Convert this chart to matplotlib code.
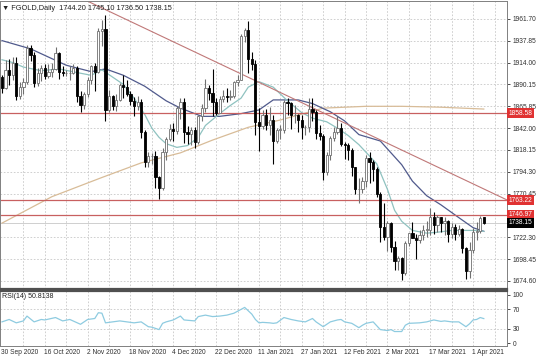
import numpy as np
import matplotlib.pyplot as plt
import matplotlib.transforms as mtransforms

# daily candles, bar index 0 = 30 Sep 2020
opens = [1898, 1886, 1906, 1900, 1913, 1877, 1887, 1893, 1930, 1922, 1891, 1902, 1908, 1899, 1904, 1907,
         1924, 1904, 1902, 1902, 1902, 1908, 1877, 1867, 1879, 1895, 1910, 1904, 1949, 1951, 1862, 1877,
         1866, 1873, 1889, 1887, 1880, 1872, 1866, 1871, 1838, 1805, 1811, 1811, 1788, 1776, 1816, 1830,
         1841, 1839, 1864, 1871, 1838, 1836, 1840, 1827, 1855, 1864, 1886, 1881, 1871, 1859, 1874, 1877,
         1876, 1877, 1893, 1895, 1943, 1950, 1918, 1912, 1849, 1844, 1856, 1845, 1851, 1828, 1840, 1840,
         1871, 1870, 1856, 1856, 1851, 1843, 1843, 1863, 1860, 1837, 1834, 1794, 1813, 1831, 1838, 1842,
         1825, 1824, 1818, 1799, 1775, 1775, 1784, 1809, 1805, 1797, 1770, 1734, 1723, 1738, 1712, 1697,
         1700, 1683, 1716, 1727, 1722, 1719, 1725, 1731, 1731, 1745, 1736, 1745, 1738, 1740, 1726, 1734,
         1726, 1732, 1711, 1685, 1708, 1728, 1729, 1744.20]
highs = [1900, 1917, 1918, 1920, 1920, 1893, 1897, 1933, 1933, 1925, 1908, 1911, 1912, 1912, 1913, 1931,
         1925, 1910, 1906, 1910, 1912, 1910, 1883, 1882, 1898, 1911, 1913, 1952, 1961, 1966, 1884, 1878,
         1880, 1892, 1900, 1895, 1883, 1876, 1877, 1874, 1840, 1816, 1815, 1817, 1790, 1820, 1832, 1847,
         1848, 1866, 1875, 1875, 1844, 1843, 1843, 1856, 1868, 1896, 1889, 1907, 1875, 1877, 1884, 1886,
         1884, 1894, 1900, 1945, 1952, 1960, 1925, 1917, 1864, 1862, 1863, 1865, 1856, 1842, 1845, 1873,
         1875, 1871, 1867, 1858, 1856, 1846, 1875, 1875, 1862, 1845, 1836, 1816, 1834, 1843, 1855, 1848,
         1827, 1826, 1820, 1800, 1787, 1789, 1813, 1816, 1807, 1799, 1772, 1760, 1740, 1739, 1718, 1702,
         1701, 1718, 1727, 1739, 1726, 1731, 1736, 1740, 1755, 1750, 1747, 1745, 1745, 1741, 1738, 1737,
         1736, 1733, 1712, 1717, 1733, 1739, 1746, 1745.10]
lows = [1881, 1885, 1889, 1895, 1873, 1874, 1880, 1890, 1916, 1887, 1888, 1894, 1896, 1897, 1898, 1906,
        1896, 1899, 1899, 1895, 1901, 1871, 1860, 1863, 1876, 1890, 1883, 1903, 1932, 1850, 1860, 1862,
        1861, 1872, 1875, 1877, 1867, 1855, 1862, 1831, 1800, 1799, 1803, 1776, 1764, 1774, 1807, 1828,
        1828, 1836, 1852, 1826, 1825, 1824, 1820, 1825, 1850, 1860, 1873, 1855, 1856, 1859, 1871, 1871,
        1873, 1875, 1888, 1895, 1936, 1902, 1906, 1835, 1817, 1841, 1840, 1835, 1803, 1826, 1830, 1837,
        1856, 1841, 1848, 1838, 1830, 1835, 1838, 1850, 1830, 1829, 1785, 1791, 1807, 1828, 1836, 1822,
        1808, 1807, 1790, 1770, 1760, 1771, 1778, 1782, 1784, 1767, 1717, 1719, 1707, 1706, 1687, 1687,
        1676, 1681, 1713, 1722, 1699, 1716, 1719, 1723, 1725, 1726, 1728, 1728, 1725, 1717, 1722, 1720,
        1724, 1705, 1677, 1678, 1705, 1720, 1727, 1736.50]
closes = [1886, 1906, 1900, 1913, 1877, 1887, 1893, 1930, 1922, 1891, 1902, 1908, 1899, 1904, 1907, 1924,
          1904, 1902, 1902, 1902, 1908, 1877, 1867, 1879, 1895, 1910, 1904, 1949, 1951, 1862, 1877, 1866,
          1873, 1889, 1887, 1880, 1872, 1866, 1871, 1838, 1805, 1811, 1811, 1788, 1776, 1816, 1830, 1841,
          1839, 1864, 1871, 1838, 1836, 1840, 1827, 1855, 1864, 1886, 1881, 1871, 1859, 1874, 1877, 1876,
          1877, 1893, 1895, 1943, 1950, 1918, 1912, 1849, 1844, 1856, 1845, 1851, 1828, 1840, 1840, 1871,
          1870, 1856, 1856, 1851, 1843, 1843, 1863, 1860, 1837, 1834, 1794, 1813, 1831, 1838, 1842, 1825,
          1824, 1818, 1799, 1775, 1775, 1784, 1809, 1805, 1797, 1770, 1734, 1723, 1738, 1712, 1697, 1700,
          1683, 1716, 1727, 1722, 1719, 1725, 1731, 1731, 1745, 1736, 1745, 1738, 1740, 1726, 1734, 1726,
          1732, 1711, 1685, 1708, 1728, 1729, 1744, 1738.15]

# moving averages (bar index, price)
ma_fast_idx = [0, 3, 6, 11, 16, 21, 25, 28, 31, 34, 37, 40, 42, 44, 46, 49, 52, 55, 57, 61, 64, 67,
               69, 72, 76, 80, 84, 87, 91, 94, 97, 100, 105, 108, 110, 112, 115, 119, 122, 126, 130, 133, 135]
ma_fast = [1917, 1914, 1909, 1905, 1907, 1903, 1900, 1906, 1898, 1890, 1875, 1857, 1842, 1832, 1825,
           1821, 1823, 1832, 1845, 1858, 1867, 1875, 1887, 1893, 1887, 1872, 1859, 1853, 1849, 1842, 1834,
           1824, 1803, 1775, 1752, 1740, 1730, 1727, 1728, 1730, 1730, 1730, 1729]
ma_slow_idx = [0, 8, 18, 25, 29, 34, 40, 46, 50, 56, 61, 67, 72, 76, 83, 87, 92, 96, 100, 106, 112,
               115, 119, 123, 128, 132, 135]
ma_slow = [1938, 1929, 1911, 1904, 1907, 1900, 1888, 1872, 1864, 1855, 1855, 1858, 1862, 1873, 1873,
           1869, 1860, 1850, 1835, 1828, 1802, 1784, 1768, 1758, 1744, 1733, 1729]
ma_long_idx = [0, 14, 28, 39, 50, 59, 69, 78, 90, 102, 112, 123, 135]
ma_long = [1738, 1767, 1788, 1804, 1815, 1829, 1843, 1851, 1864, 1866, 1866, 1865, 1863]

# RSI(14)
rsi_idx = [0, 2, 4, 6, 7, 9, 11, 12, 15, 17, 19, 22, 24, 26, 27, 28, 29, 31, 33, 35, 37, 39, 41, 42, 44,
           45, 46, 48, 50, 51, 54, 55, 57, 59, 61, 63, 65, 67, 68, 69, 70, 71, 72, 73, 75, 76, 77, 79, 81,
           83, 85, 87, 88, 90, 92, 94, 95, 96, 98, 100, 101, 102, 104, 106, 108, 109, 110, 112, 113, 114,
           117, 119, 121, 123, 124, 126, 128, 130, 131, 132, 133, 134, 135]
rsi_val = [44, 49, 42, 46, 56, 44, 49, 48, 53, 46, 49, 39, 49, 51, 63, 62, 42, 44, 46, 44, 42, 44, 34, 33,
           28, 41, 44, 48, 56, 48, 46, 55, 58, 55, 56, 58, 62, 70, 74, 67, 60, 49, 42, 43, 42, 41, 42, 53,
           49, 46, 44, 51, 44, 34, 44, 48, 49, 44, 41, 32, 37, 41, 44, 28, 26, 28, 24, 24, 37, 41, 42, 44,
           48, 45, 46, 44, 44, 34, 40, 48, 49, 53, 50.8138]

# levels and trend line drawn on the chart
levels = [1858.58, 1763.22, 1746.97]
last_price = 1738.15
trend_idx = [23.3, 141.5]
trend_px = [1982.5, 1763.4]

price_ticks = [1961.70, 1937.85, 1914.00, 1890.15, 1865.85, 1842.00, 1818.15, 1794.30, 1770.45,
               1746.60, 1722.30, 1698.45, 1674.60]
date_labels = ['30 Sep 2020', '16 Oct 2020', '2 Nov 2020', '18 Nov 2020', '4 Dec 2020', '22 Dec 2020',
               '11 Jan 2021', '27 Jan 2021', '12 Feb 2021', '2 Mar 2021', '17 Mar 2021', '1 Apr 2021']

plt.rcParams['font.family'] = ['Liberation Sans', 'DejaVu Sans']
FS = 4.8
fig = plt.figure(figsize=(5.36, 3.57), dpi=100)
ax = fig.add_axes([0, 68 / 357, 507 / 536, 288 / 357])
axr = fig.add_axes([0, 11 / 357, 507 / 536, 55 / 357])

x0, x1 = -0.56, 141.5
o = np.array(opens)
h = np.array(highs)
l = np.array(lows)
c = np.array(closes)
idx = np.arange(len(c))
up = c >= o

grid_kw = dict(color='#c8c8c8', lw=0.6, ls=(0, (2, 2)))
for a in (ax, axr):
    for g in range(6, 141, 6):
        a.axvline(g, zorder=0, **grid_kw)

for t in price_ticks:
    ax.axhline(t, zorder=0, **grid_kw)

# candles
ax.vlines(idx[up], l[up], h[up], color='#707070', lw=0.8, zorder=3)
ax.vlines(idx[~up], l[~up], h[~up], color='#000000', lw=0.8, zorder=3)
body = np.maximum(np.abs(c - o), 0.6)
ax.bar(idx[up], body[up], bottom=np.minimum(o, c)[up], width=0.62,
       color='white', edgecolor='#707070', lw=0.6, zorder=4)
ax.bar(idx[~up], body[~up], bottom=np.minimum(o, c)[~up], width=0.62,
       color='black', edgecolor='black', lw=0.6, zorder=4)

ax.plot(ma_long_idx, ma_long, color='#d8bc98', lw=0.9, zorder=2)
ax.plot(ma_slow_idx, ma_slow, color='#505a8c', lw=0.9, zorder=2)
ax.plot(ma_fast_idx, ma_fast, color='#8fc2c0', lw=0.9, zorder=2)

for lv in levels:
    ax.axhline(lv, color='#c86060', lw=0.9, zorder=2)
ax.axhline(last_price, color='#c8c8c8', lw=0.6, zorder=1)
ax.plot(trend_idx, trend_px, color='#c07878', lw=0.8, zorder=2)

ax.set_xlim(x0, x1)
ax.set_ylim(1665.8, 1981.4)
ax.set_xticks([])
ax.yaxis.tick_right()
ax.set_yticks(price_ticks)
# 1746.60 sits under the 1746.97 marker
ax.set_yticklabels(['' if t == 1746.60 else '%.2f' % t for t in price_ticks])
ax.tick_params(axis='y', labelsize=FS, length=2.5, pad=1.5, colors='#303030', width=0.6)

for lv in levels:
    ax.text(1.003, lv, '%.2f' % lv, transform=ax.get_yaxis_transform(), fontsize=FS, color='white',
            va='center', ha='left', zorder=10, clip_on=False,
            bbox=dict(boxstyle='square,pad=0.2', fc='#e03232', ec='none'))
ax.text(1.003, last_price, '%.2f' % last_price, transform=ax.get_yaxis_transform(), fontsize=FS,
        color='white', va='center', ha='left', zorder=10, clip_on=False,
        bbox=dict(boxstyle='square,pad=0.2', fc='black', ec='none'))

ax.text(0.003, 0.985, '\u25bc FGOLD,Daily  1744.20 1745.10 1736.50 1738.15', transform=ax.transAxes,
        fontsize=5.3, va='top', ha='left', color='#202020')

for s in ax.spines.values():
    s.set_color('#808080')
    s.set_linewidth(0.7)
ax.spines['bottom'].set_color('#505050')
ax.spines['bottom'].set_linewidth(1.6)

# RSI window
axr.plot(rsi_idx, rsi_val, color='#8ecbe0', lw=0.9)
for t in (70, 30):
    axr.axhline(t, zorder=0, **grid_kw)
axr.set_xlim(x0, x1)
axr.set_ylim(-6, 108)
axr.set_xticks([])
axr.yaxis.tick_right()
axr.set_yticks([100, 70, 30, 0])
axr.tick_params(axis='y', labelsize=FS, length=2.5, pad=1.5, colors='#303030', width=0.6)
axr.text(0.003, 0.97, 'RSI(14) 50.8138', transform=axr.transAxes, fontsize=5.0, va='top', ha='left',
         color='#202020')
for s in axr.spines.values():
    s.set_color('#808080')
    s.set_linewidth(0.7)
axr.spines['top'].set_color('#505050')
axr.spines['top'].set_linewidth(1.6)

tr = mtransforms.blended_transform_factory(axr.transData, fig.transFigure)
for k, lab in enumerate(date_labels):
    axr.text(12 * k - 0.3, 5 / 357, lab, transform=tr, fontsize=FS, va='center', ha='left',
             color='#303030', clip_on=False)

fig.savefig('out.png', dpi=100)
